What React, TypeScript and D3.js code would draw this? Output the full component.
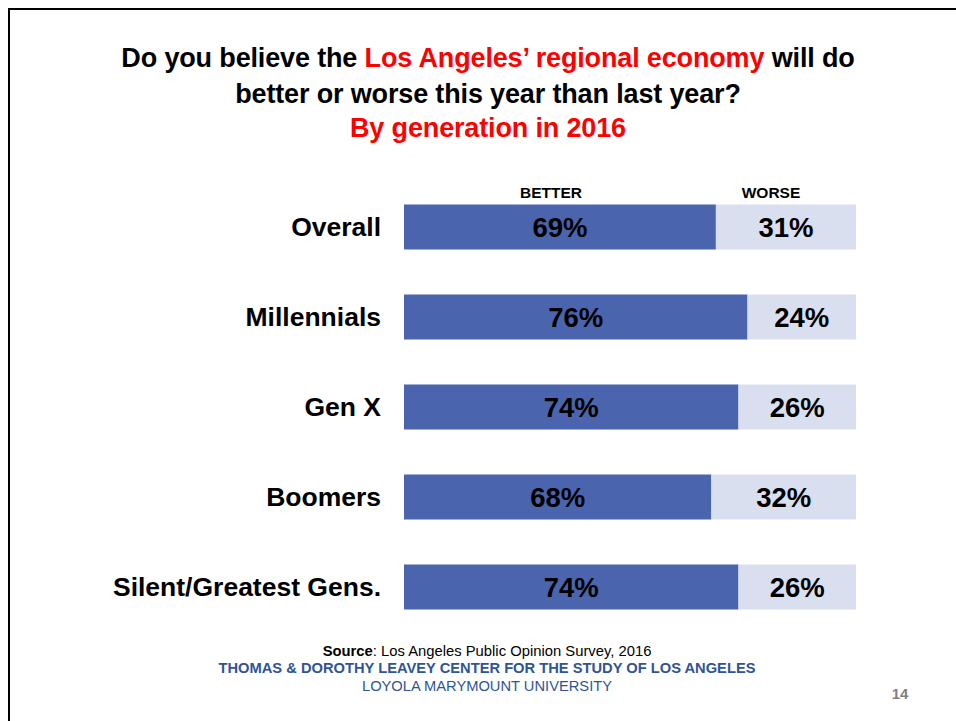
import React from "react";
import * as d3 from "d3";

const categories = ["Overall", "Millennials", "Gen X", "Boomers", "Silent/Greatest Gens."];
const better = [69, 76, 74, 68, 74];
const worse = [31, 24, 26, 32, 26];
const seriesLabels = ["BETTER", "WORSE"];

const W = 956;
const H = 721;
const FONT = "Liberation Sans, Arial, Helvetica, sans-serif";

export default function App() {
  const x = d3.scaleLinear().domain([0, 100]).range([404, 856]);
  const y = d3.scaleBand().domain(categories).range([182, 632]).paddingInner(0.5).paddingOuter(0.25);
  const bh = y.bandwidth();

  return (
    <svg
      width={W}
      height={H}
      style={{ position: "absolute", left: 0, top: 0, display: "block", background: "#fff" }}
      fontFamily={FONT}
    >
      <rect x={9} y={9} width={1200} height={1000} fill="none" stroke="#000" strokeWidth={2} />

      <text x={488} y={67} textAnchor="middle" fontSize={27} fontWeight="bold" letterSpacing={-0.15} fill="#000">
        Do you believe the <tspan fill="#ff0000">Los Angeles’ regional economy</tspan> will do
      </text>
      <text x={488} y={103} textAnchor="middle" fontSize={27} fontWeight="bold" letterSpacing={-0.15} fill="#000">
        better or worse this year than last year?
      </text>
      <text x={488} y={137} textAnchor="middle" fontSize={27} fontWeight="bold" letterSpacing={-0.15} fill="#ff0000">
        By generation in 2016
      </text>

      <text x={551} y={198} textAnchor="middle" fontSize={15.5} fontWeight="bold" fill="#000">
        {seriesLabels[0]}
      </text>
      <text x={771} y={198} textAnchor="middle" fontSize={15.5} fontWeight="bold" fill="#000">
        {seriesLabels[1]}
      </text>

      {categories.map((c, i) => {
        const y0 = y(c)!;
        const xb = x(better[i]);
        return (
          <g key={c}>
            <rect x={x(0)} y={y0} width={xb - x(0)} height={bh} fill="#4a65ae" />
            <rect x={xb} y={y0} width={x(better[i] + worse[i]) - xb} height={bh} fill="#d9dfef" />
            <text x={381} y={y0 + bh / 2} dy="0.34em" textAnchor="end" fontSize={26.5} fontWeight="bold" fill="#000">
              {c}
            </text>
            <text x={(x(0) + xb) / 2} y={y0 + bh / 2} dy="0.37em" textAnchor="middle" fontSize={27.5} fontWeight="bold" fill="#000">
              {better[i]}%
            </text>
            <text x={(xb + x(better[i] + worse[i])) / 2} y={y0 + bh / 2} dy="0.37em" textAnchor="middle" fontSize={27.5} fontWeight="bold" fill="#000">
              {worse[i]}%
            </text>
          </g>
        );
      })}

      <text x={487} y={656} textAnchor="middle" fontSize={14.8} fill="#000">
        <tspan fontWeight="bold">Source</tspan>: Los Angeles Public Opinion Survey, 2016
      </text>
      <text x={487} y={673} textAnchor="middle" fontSize={14.7} fontWeight="bold" fill="#2f5496">
        THOMAS &amp; DOROTHY LEAVEY CENTER FOR THE STUDY OF LOS ANGELES
      </text>
      <text x={487} y={691} textAnchor="middle" fontSize={14.7} fill="#2f5496">
        LOYOLA MARYMOUNT UNIVERSITY
      </text>
      <text x={900} y={699} textAnchor="middle" fontSize={15} fontWeight="bold" fill="#7f7f7f">
        14
      </text>
    </svg>
  );
}
